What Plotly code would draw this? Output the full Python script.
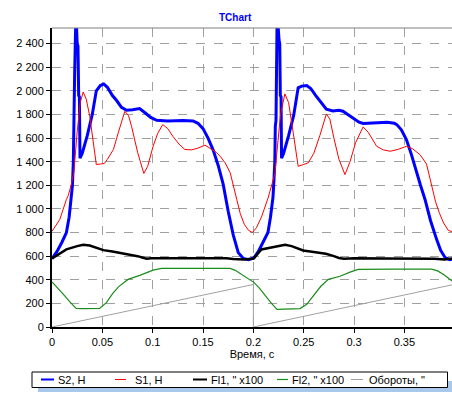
import plotly.graph_objects as go

# ---- data ----
s2_t = [0.000, 0.005, 0.010, 0.0143, 0.017, 0.019, 0.0203, 0.0212, 0.0217, 0.0225, 0.0235, 0.0243, 0.0250,
        0.0258, 0.0265, 0.0272, 0.0278, 0.030, 0.035, 0.040, 0.044, 0.048, 0.0514, 0.055, 0.060, 0.064,
        0.069, 0.074, 0.080, 0.087, 0.093, 0.098, 0.104, 0.115, 0.130, 0.140, 0.145, 0.150, 0.155, 0.160,
        0.165, 0.170, 0.175, 0.180, 0.185, 0.190, 0.195, 0.1995,
        0.2005, 0.205, 0.210, 0.2145, 0.217, 0.2195, 0.2205, 0.2213, 0.2218, 0.2225, 0.2235, 0.2245, 0.2255,
        0.2262, 0.2268, 0.2275, 0.228, 0.230, 0.235, 0.240, 0.2445, 0.248, 0.253, 0.257, 0.262, 0.2675,
        0.2725, 0.279, 0.285, 0.289, 0.295, 0.300, 0.305, 0.309, 0.320, 0.333, 0.340, 0.3425, 0.347, 0.352,
        0.357, 0.362, 0.366, 0.3705, 0.376, 0.382, 0.386, 0.3905, 0.395, 0.3975]
s2_v = [580, 640, 720, 800, 930, 1080, 1200, 1400, 2080, 2150, 2550, 2560, 2400,
        2380, 1960, 1950, 1430, 1470, 1620, 1800, 2000, 2045, 2058, 2030, 1960, 1920,
        1860, 1835, 1840, 1850, 1810, 1775, 1750, 1745, 1748, 1745, 1725, 1680, 1600, 1500,
        1370, 1210, 980, 780, 630, 580, 570, 578,
        585, 640, 720, 800, 930, 1100, 1250, 1400, 1700, 1750, 2550, 2560, 2430,
        2400, 1960, 1950, 1430, 1470, 1620, 1790, 2025, 2040, 2045, 2020, 1960, 1900,
        1845, 1830, 1835, 1827, 1790, 1760, 1735, 1723, 1730, 1734, 1725, 1714, 1670, 1587,
        1460, 1306, 1200, 1080, 900, 742, 650, 587, 570, 575]

s1_t = [0.000, 0.0077, 0.0143, 0.016, 0.019, 0.0217, 0.025, 0.028, 0.031, 0.034, 0.0375, 0.041, 0.044,
        0.048, 0.052, 0.055, 0.061, 0.066, 0.0723, 0.076, 0.079, 0.085, 0.0912, 0.095, 0.1004, 0.105,
        0.110, 0.115, 0.120, 0.126, 0.132, 0.1386, 0.145, 0.152, 0.158, 0.163, 0.167, 0.172, 0.177,
        0.180, 0.1835, 0.187, 0.191, 0.195, 0.199,
        0.203, 0.208, 0.2145, 0.2185, 0.2215, 0.223, 0.227, 0.2313, 0.235, 0.2395, 0.2445, 0.2495,
        0.2545, 0.260, 0.266, 0.2725, 0.276, 0.280, 0.285, 0.291, 0.296, 0.3015, 0.309, 0.314, 0.3225,
        0.329, 0.336, 0.344, 0.352, 0.358, 0.3655, 0.372, 0.377, 0.381, 0.385, 0.389, 0.3935, 0.3975]
s1_v = [810, 910, 1080, 1110, 1200, 1310, 1650, 1900, 1990, 1930, 1785, 1550, 1376,
        1380, 1385, 1420, 1503, 1650, 1826, 1790, 1700, 1480, 1300, 1360, 1530, 1640,
        1714, 1680, 1615, 1550, 1503, 1500, 1515, 1540, 1510, 1480, 1446, 1390, 1306,
        1190, 1080, 960, 870, 820, 800,
        840, 930, 1090, 1200, 1300, 1446, 1800, 1974, 1900, 1650, 1361, 1375,
        1390, 1470, 1620, 1804, 1760, 1600, 1420, 1291, 1400, 1560, 1694, 1650, 1530,
        1500, 1488, 1505, 1530, 1510, 1460, 1380, 1200, 1060, 960, 880, 820, 805]

fi1_t = [0.000, 0.0143, 0.025, 0.031, 0.0375, 0.045, 0.051, 0.060, 0.074, 0.085, 0.0905, 0.094, 0.0985,
         0.120, 0.150, 0.173, 0.180, 0.190, 0.1995,
         0.2005, 0.208, 0.220, 0.2315, 0.238, 0.2495, 0.260, 0.272, 0.280, 0.285, 0.290, 0.300, 0.330,
         0.360, 0.380, 0.390, 0.3975]
fi1_v = [580, 657, 685, 697, 690, 665, 651, 640, 620, 600, 587, 578, 583,
         582, 582, 582, 575, 572, 578,
         582, 657, 680, 697, 685, 648, 635, 620, 600, 585, 578, 582, 580,
         582, 578, 572, 580]

fi2_t = [0.000, 0.006, 0.012, 0.018, 0.024, 0.030, 0.040, 0.0473, 0.054, 0.060, 0.066, 0.0755, 0.0872,
         0.1004, 0.1088, 0.140, 0.177, 0.182, 0.187, 0.193, 0.1995,
         0.2005, 0.206, 0.212, 0.218, 0.2235, 0.235, 0.2463, 0.253, 0.260, 0.267, 0.2745, 0.286, 0.296,
         0.304, 0.340, 0.377, 0.383, 0.389, 0.3935, 0.3975]
fi2_v = [382, 330, 270, 210, 158, 155, 155, 157, 206, 280, 340, 403, 437,
         482, 496, 496, 496, 480, 454, 420, 382,
         378, 330, 260, 200, 150, 153, 156, 192, 270, 345, 403, 430, 465,
         488, 490, 490, 475, 445, 415, 389]

rev_t = [0.000, 0.200, 0.200, 0.3975]
rev_v = [0, 360, 0, 357]

x_ticks = [0, 0.05, 0.1, 0.15, 0.2, 0.25, 0.3, 0.35]
x_tick_text = ["0", "0.05", "0.1", "0.15", "0.2", "0.25", "0.3", "0.35"]
y_ticks = list(range(0, 2600, 200))

series_names = ["S2, H", "S1, H", "Fl1, \" x100", "Fl2, \" x100", "Обороты, \""]
series_x = [s2_t, s1_t, fi1_t, fi2_t, rev_t]
series_y = [s2_v, s1_v, fi1_v, fi2_v, rev_v]

# ---- styles / layout ----
colors = ["#0000ff", "#ff0000", "#000000", "#1a8c1a", "#a0a0a0"]
widths = [3, 1, 2.5, 1.2, 1]

W, H = 452, 398
L, R, T, B = 52, 0, 28, 71
PW, PH = W - L - R, H - T - B


def px(x):
    return (x - L) / PW


def py(y):
    return (H - B - y) / PH


fig = go.Figure()
for name, t, v, col, w in zip(series_names, series_x, series_y, colors, widths):
    fig.add_trace(go.Scatter(x=t, y=v, mode="lines", name=name,
                             line=dict(color=col, width=w), hoverinfo="skip"))

font_family = "Liberation Sans, Arial, sans-serif"

# manual legend (box, shadow, line samples, labels)
leg_line_x = [(41, 54), (115, 126), (193, 207), (277, 288), (351, 363)]
leg_text_x = [56, 133, 209, 290, 367]
leg_y = 379.5
shapes = [
    dict(type="rect", xref="paper", yref="paper", x0=px(38), x1=px(453), y0=py(392), y1=py(381),
         fillcolor="#a8c8ec", line=dict(width=0)),
    dict(type="rect", xref="paper", yref="paper", x0=px(32), x1=px(447.5), y0=py(387.5), y1=py(372),
         fillcolor="white", line=dict(color="#000000", width=1)),
    dict(type="line", xref="paper", yref="paper", x0=0, x1=1, y0=1, y1=1,
         line=dict(color="#808080", width=1)),
]
annotations = [dict(text="<b>TChart</b>", x=px(235), y=py(17), xref="paper", yref="paper",
                    yanchor="middle", xanchor="center", showarrow=False,
                    font=dict(family=font_family, size=10, color="#0000ff"))]
for (x0, x1), tx, name, col, w in zip(leg_line_x, leg_text_x, series_names, colors, widths):
    shapes.append(dict(type="line", xref="paper", yref="paper", x0=px(x0), x1=px(x1),
                       y0=py(leg_y), y1=py(leg_y), line=dict(color=col, width=min(w, 2))))
    annotations.append(dict(text=name, x=px(tx), y=py(leg_y), xref="paper", yref="paper",
                            xanchor="left", yanchor="middle", showarrow=False,
                            font=dict(family=font_family, size=11, color="#000000")))

fig.update_layout(
    width=W, height=H,
    margin=dict(l=L, r=R, t=T, b=B),
    paper_bgcolor="white", plot_bgcolor="white",
    separators=". ",
    font=dict(family=font_family, size=11, color="#000000"),
    showlegend=False,
    annotations=annotations,
    shapes=shapes,
)

fig.update_xaxes(range=[0, 0.3973], tickvals=x_ticks, ticktext=x_tick_text, automargin=False,
                 showgrid=True, gridcolor="#a0a0a0", griddash="dash", gridwidth=1,
                 showline=True, linecolor="#000000", linewidth=2,
                 ticks="outside", ticklen=4, tickcolor="#000000", zeroline=False,
                 title=dict(text="Время, с", standoff=2, font=dict(size=11)))
fig.update_yaxes(range=[0, 2532], tickvals=y_ticks, tickformat=",d", automargin=False,
                 showgrid=True, gridcolor="#a0a0a0", griddash="dash", gridwidth=1,
                 showline=True, linecolor="#000000", linewidth=2,
                 ticks="outside", ticklen=4, tickcolor="#000000", zeroline=False)

fig.write_html("out.html", config={"displayModeBar": False},
               post_script="document.body.style.margin='0';")
